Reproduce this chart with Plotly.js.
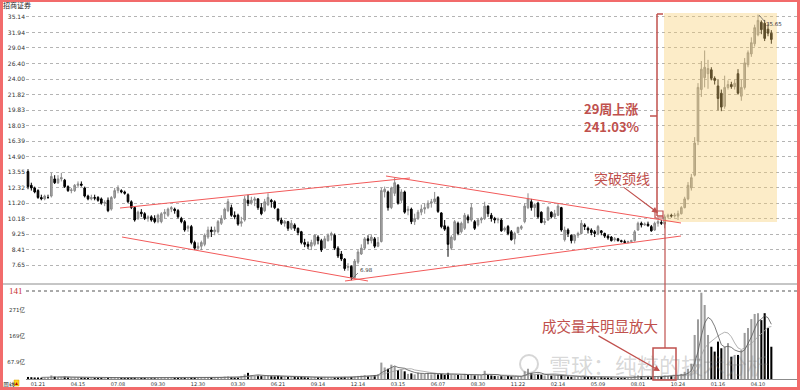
<!DOCTYPE html>
<html><head><meta charset="utf-8">
<script src="https://cdn.plot.ly/plotly-3.0.1.min.js"></script>
<style>
html,body{margin:0;padding:0;background:#fff;}
#wrap{position:relative;width:800px;height:390px;overflow:hidden;}
#chart{width:800px;height:390px;}
#frame{position:absolute;left:0;top:0;width:800px;height:390px;box-sizing:border-box;border:3px solid #f26b6b;border-top-width:2px;pointer-events:none;}
</style></head><body>
<div id="wrap"><div id="chart"></div><div id="frame"></div></div>
<script>
// ---- data (weekly, 招商证券) ----
const openP = [
13.6,12.5,12.3,12.1,11.6,11.5,11.6,11.7,13.0,12.7,
13.0,12.9,12.4,12.1,12.1,12.5,12.6,12.3,11.7,11.5,
11.6,11.6,11.5,11.2,11.4,10.8,11.6,12.1,12.1,12.0,
11.8,11.3,10.9,10.2,10.6,10.5,10.2,10.3,10.2,10.0,
10.0,10.5,10.4,10.8,10.8,10.7,10.2,10.0,9.6,9.7,
8.8,8.5,8.6,8.7,9.1,9.5,9.4,9.4,9.9,10.2,
10.7,10.9,10.4,10.4,9.9,10.1,11.4,11.2,11.4,11.5,
10.9,10.7,11.1,11.4,11.3,10.8,10.1,9.9,10.0,9.6,
9.8,9.6,9.4,8.8,8.7,8.6,8.7,9.1,8.9,8.5,
8.9,9.2,9.2,8.5,8.2,7.95,7.55,7.6,7.1,7.8,
8.2,8.5,9.0,8.9,9.0,8.6,8.85,12.0,12.0,10.9,
11.9,12.5,11.4,12.0,10.7,10.8,10.0,10.2,10.6,10.8,
10.9,11.2,11.3,11.6,10.55,9.75,9.65,8.5,8.95,9.9,
9.4,9.6,10.3,10.1,10.0,9.8,10.1,10.2,11.0,10.4,
10.2,10.1,10.1,9.5,9.7,9.4,9.0,9.35,9.6,10.0,
10.9,11.3,10.9,11.2,10.6,9.95,10.1,10.6,10.3,10.4,
10.9,8.95,9.5,9.2,8.9,9.2,9.3,9.8,9.6,9.5,
9.4,9.3,9.45,9.3,9.15,9.1,8.95,9.0,8.9,8.85,
8.8,8.85,8.9,9.5,9.9,9.8,9.85,9.7,9.5,9.9,
9.95,9.85,10.3,10.4,10.35,10.35,10.5,10.9,11.5,12.3,
13.3,16.4,22.5,24.2,24.8,25.4,24.1,23.0,22.0,20.3,
22.8,23.2,22.9,24.8,21.6,22.8,26.2,28.0,29.8,31.5,
34.0,33.8,32.6,31.8];
const highP = [
13.8,12.7,12.4,12.2,11.8,11.8,11.8,13.5,13.3,13.3,
13.5,13.0,12.5,12.3,12.6,12.8,12.8,12.4,11.8,11.8,
11.8,11.7,11.6,11.4,11.6,11.7,12.3,12.5,12.2,12.1,
11.9,11.4,11.0,10.7,10.8,10.6,10.4,10.4,10.4,10.5,
10.6,10.8,10.9,11.0,10.9,10.8,10.3,10.1,9.8,9.8,
8.9,8.8,8.9,9.3,9.7,9.7,9.7,10.1,10.4,10.9,
11.5,11.1,10.65,10.5,10.3,11.7,11.8,11.65,11.65,11.55,
11.2,11.5,11.9,11.5,11.4,10.85,10.25,10.1,10.05,10.1,
9.9,9.65,9.45,9.0,8.85,8.95,9.25,9.2,9.0,9.15,
9.3,9.4,9.3,8.6,8.35,8.0,7.75,7.65,7.95,8.4,
8.7,9.1,9.2,9.25,9.1,9.1,12.3,12.4,12.1,12.4,
13.1,12.6,12.2,12.1,11.0,10.9,10.5,10.75,11.1,11.2,
11.4,11.5,12.0,11.7,10.6,10.1,9.75,9.2,10.1,10.0,
10.0,10.55,10.45,11.2,10.1,10.2,10.3,11.3,11.05,10.55,
10.3,10.25,10.2,9.7,9.8,9.5,9.4,9.7,9.8,11.2,
11.9,11.5,11.2,11.3,10.65,10.2,11.0,10.65,10.75,11.2,
10.95,9.7,9.6,9.25,9.25,9.4,10.1,9.9,9.7,9.6,
9.5,9.8,9.5,9.35,9.25,9.15,9.1,9.05,8.95,8.95,
8.9,8.95,9.5,10.0,10.0,9.95,10.0,9.8,10.0,10.1,
10.1,10.45,10.5,10.5,10.55,10.7,11.0,11.65,12.75,13.4,
16.8,23.4,26.8,28.6,27.0,25.8,24.4,23.9,22.5,24.5,
23.8,23.6,23.9,25.5,23.9,27.3,28.6,31.0,33.5,35.65,
34.4,34.5,33.6,32.4];
const lowP = [
12.2,12.1,11.9,11.5,11.4,11.4,11.5,11.6,12.6,12.6,
12.8,12.3,12.0,11.9,12.0,12.3,12.4,11.6,11.4,11.4,
11.4,11.3,11.1,11.0,10.6,10.7,11.5,11.9,11.9,11.8,
11.2,10.8,10.0,10.1,10.3,10.1,10.0,10.0,9.9,9.9,
9.9,10.2,10.3,10.6,10.5,10.2,9.9,9.4,9.4,8.7,
8.4,8.4,8.4,8.6,9.0,9.1,9.2,9.3,9.8,10.1,
10.6,10.3,10.15,9.75,9.7,10.0,11.0,11.1,11.0,10.75,
10.4,10.6,11.0,10.9,10.8,10.0,9.8,9.7,9.45,9.5,
9.45,9.2,8.7,8.55,8.45,8.4,8.6,8.7,8.3,8.5,
8.85,8.9,8.4,8.0,7.85,7.4,7.4,6.98,7.05,7.7,
8.15,8.4,8.7,8.75,8.5,8.55,8.8,11.6,10.7,10.8,
11.7,11.1,11.2,10.5,10.4,9.85,9.8,10.1,10.4,10.5,
10.8,10.9,11.2,10.55,9.6,9.45,8.06,8.4,8.9,9.2,
9.3,9.5,9.9,10.0,9.5,9.7,9.9,10.1,10.3,10.0,
9.9,9.9,9.4,9.4,9.2,8.9,8.7,9.3,9.5,9.9,
10.8,10.7,10.3,10.2,9.9,9.8,10.05,10.2,10.2,10.35,
9.4,8.85,9.1,8.75,8.75,9.05,9.25,9.5,9.3,9.2,
9.1,9.2,9.2,9.05,8.95,8.85,8.85,8.85,8.8,8.75,
8.75,8.78,8.85,9.45,9.65,9.75,9.7,9.4,9.45,9.7,
9.8,9.6,10.2,10.25,10.25,10.1,10.45,10.85,11.4,12.1,
13.2,16.0,21.5,22.8,22.6,23.8,23.2,19.8,19.7,20.0,
22.5,22.6,22.5,21.8,21.0,22.5,25.8,27.5,29.3,31.2,
31.6,30.3,31.2,29.8];
const closeP = [
12.4,12.3,12.0,11.6,11.5,11.7,11.6,13.2,12.7,13.0,
13.1,12.4,12.1,12.15,12.5,12.6,12.5,11.7,11.5,11.6,
11.55,11.4,11.2,11.25,10.7,11.6,12.1,12.3,12.0,11.9,
11.3,10.9,10.1,10.6,10.5,10.2,10.3,10.1,10.0,10.4,
10.5,10.6,10.8,10.9,10.7,10.3,10.0,9.5,9.7,8.8,
8.5,8.6,8.8,9.2,9.5,9.4,9.5,10.0,10.2,10.8,
11.3,10.4,10.3,9.85,10.0,11.5,11.2,11.4,11.5,10.9,
10.5,11.3,11.6,11.3,10.9,10.1,9.9,10.0,9.6,9.9,
9.6,9.35,8.8,8.7,8.6,8.8,9.2,8.9,8.4,9.0,
9.2,9.3,8.5,8.1,7.95,7.5,7.6,7.1,7.85,8.3,
8.5,9.0,8.9,9.1,8.6,8.8,12.1,12.2,10.9,12.3,
12.7,11.2,12.0,10.6,10.8,10.0,10.2,10.6,10.8,10.9,
11.2,11.3,11.5,10.65,9.7,9.55,8.7,9.1,10.0,9.3,
9.9,10.4,10.1,10.9,9.6,10.1,10.2,11.0,10.5,10.2,
10.1,10.15,9.45,9.6,9.3,8.95,9.3,9.65,9.7,11.0,
11.5,10.9,11.1,10.3,9.95,10.0,10.9,10.3,10.5,11.0,
9.5,9.5,9.3,8.9,9.2,9.3,9.9,9.7,9.5,9.35,
9.3,9.7,9.35,9.15,9.05,8.9,9.0,8.9,8.85,8.8,
8.85,8.9,9.4,9.9,9.8,9.85,9.75,9.45,9.9,10.0,
9.9,10.3,10.4,10.35,10.4,10.5,10.9,11.5,12.5,13.1,
16.2,22.8,25.5,25.8,25.6,24.1,23.8,21.3,20.2,22.8,
23.2,22.9,23.4,22.0,22.8,26.5,28.2,30.0,32.9,34.4,
32.5,30.8,31.8,30.6];
const volume = [
8,7,6,6,5,5,6,
14,
9,8,8,9,7,6,7,7,6,
6,5,5,4,4,4,4,6,7,6,5,
4,4,5,5,6,5,4,4,4,3,3,4,5,
5,4,5,4,4,3,4,4,5,5,4,
4,5,6,5,4,7,8,9,10,8,6,6,
12,18,24,
14,12,13,12,12,14,11,10,12,10,9,8,9,8,
7,8,7,6,6,8,7,6,7,7,6,6,7,7,8,
7,8,10,12,13,15,12,13,15,18,
64,45,40,56,50,35,38,30,
20,22,18,25,22,20,24,18,22,
18,20,16,24,18,17,16,15,20,16,18,14,15,14,
32,
16,14,12,12,11,10,12,10,10,9,11,
30,40,
22,18,20,17,14,16,13,14,16,15,
12,10,9,9,8,10,9,8,8,7,8,7,6,6,6,5,5,5,5,6,
6,12,14,10,9,8,7,9,10,10,
14,12,12,10,14,20,28,40,60,
172,233,337,289,172,126,107,146,120,126,140,87,94,94,113,180,199,234,254,257,230,257,199,126];
const tickIdx = [3,15,27,39,51,63,75,87,99,111,123,135,147,159,171,183,195,207,219];
const tickText = ['01.21','04.15','07.08','09.30','12.30','03.30','06.21','09.14','12.14','03.15','06.07','08.30','11.22','02.14','05.09','08.01','10.24','01.16','04.10'];
const priceTicks = [7.65,8.41,9.25,10.18,11.20,12.32,13.55,14.90,16.39,18.03,19.83,21.82,24.00,26.40,29.04,31.94,35.14];
const priceTickText = ['7.65','8.41','9.25','10.18','11.20','12.32','13.55','14.90','16.39','18.03','19.83','21.82','24.00','26.40','29.04','31.94','35.14'];
const volTicks = [67.9,169,271];
const volTickText = ['67.9亿','169亿','271亿'];

// ---- derived ----
const N = closeP.length;
const xs = closeP.map((_, i) => i);
const volColors = closeP.map((c, i) => c >= openP[i] ? '#9c9c9c' : '#000000');
function ma(arr, n){ return arr.map((_, i) => i < n-1 ? null : arr.slice(i-n+1, i+1).reduce((a,b)=>a+b,0)/n); }
const ma5 = ma(volume, 5), ma10 = ma(volume, 10);

// ---- pixel helpers for overlays ----
const L = 26, R = 797, T = 10, B = 379;
const px = x => (x - L) / (R - L);
const py = y => (B - y) / (B - T);
const RED = '#c0504d', TL = '#f25a5a';
function seg(x0,y0,x1,y1,color,w,dash){ return {type:'line',xref:'paper',yref:'paper',x0:px(x0),y0:py(y0),x1:px(x1),y1:py(y1),line:{color:color,width:w,dash:dash||'solid'},layer:'above'}; }
function box(x0,y0,x1,y1,color,w,fill){ return {type:'rect',xref:'paper',yref:'paper',x0:px(x0),y0:py(y1),x1:px(x1),y1:py(y0),line:{color:color,width:w},fillcolor:fill||'rgba(0,0,0,0)',layer:'above'}; }
const CJK = 'Noto Sans CJK SC, sans-serif';
function txt(x,y,t,size,color,extra){ return Object.assign({xref:'paper',yref:'paper',x:px(x),y:py(y),text:t,showarrow:false,xanchor:'left',yanchor:'middle',font:{family:CJK,size:size,color:color}}, extra||{}); }

const traces = [
  {type:'candlestick', x:xs, open:openP, high:highP, low:lowP, close:closeP, xaxis:'x', yaxis:'y',
   increasing:{line:{color:'#8a8a8a',width:1},fillcolor:'#a8a8a8'},
   decreasing:{line:{color:'#000000',width:1},fillcolor:'#000000'},
   whiskerwidth:0, hoverinfo:'skip'},
  {type:'bar', x:xs, y:volume, xaxis:'x', yaxis:'y2', width:0.62, marker:{color:volColors,line:{width:0}}, hoverinfo:'skip'},
  {type:'scatter', mode:'lines', x:xs, y:ma10, xaxis:'x', yaxis:'y2', line:{color:'#a0a0a0',width:0.8}, hoverinfo:'skip'},
  {type:'scatter', mode:'lines', x:xs, y:ma5, xaxis:'x', yaxis:'y2', line:{color:'#5a5a5a',width:0.8}, hoverinfo:'skip'}
];

const shapes = [
  seg(2,284,797,284,'#8c8c8c',1),
  seg(26,291,797,291,'#555555',1,'dot'),
  {type:'rect',xref:'paper',yref:'paper',x0:px(664),x1:px(777),y0:py(222),y1:py(13),fillcolor:'rgba(246,206,110,0.38)',line:{width:0},layer:'above'},
  seg(120,208,410,178,TL,1),
  seg(122,237,368,281,TL,1),
  seg(386,176,681,223,TL,1),
  seg(345,281,681,236,TL,1),
  seg(657,14,657,216,RED,1.5),
  seg(657,14,663,14,RED,1.5),
  seg(657,216,663,216,RED,1.5),
  seg(650,116,657,116,RED,1.5),
  box(655,211,663,218,RED,1.2),
  seg(665,222,665,348,RED,1.2),
  box(653,348,676,380,RED,1.5),
  seg(352,279,358,273,'#666666',0.8),
  seg(759,15,765,22,'#666666',0.8),
  {type:'circle',xref:'paper',yref:'paper',x0:px(520),x1:px(538),y0:py(373),y1:py(355),line:{color:'rgba(120,120,120,0.3)',width:2},layer:'above'},
  box(14,380,19,386,'#d4a000',0.5,'#ffd21f')
];

const annotations = [
  txt(1,5,'招商证券',7,'#222'),
  txt(7,291,'141',9,'#c83232',{font:{family:'Liberation Serif, serif',size:9,color:'#c83232'}}),
  txt(582,108,'<b>29周上涨</b>',13,RED),
  txt(582,127,'<b>241.03%</b>',13,RED),
  txt(592,178,'突破颈线',14,RED),
  txt(540,325,'成交量未明显放大',14.5,RED),
  txt(358,270,'6.98',5.5,'#333',{font:{family:'DejaVu Sans',size:5.5,color:'#333'}}),
  txt(764,24,'35.65',5.5,'#333',{font:{family:'DejaVu Sans',size:5.5,color:'#333'}}),
  txt(547,364,'雪球：纯粹的技术分析',22,'rgba(120,120,120,0.3)'),
  txt(1,384,'周线',6,'#222'),
  {xref:'paper',yref:'paper',x:px(16.5),y:py(383),text:'▲',showarrow:false,font:{size:5,color:'#b00000'},xanchor:'center',yanchor:'middle'},
  {xref:'paper',yref:'paper',x:px(658),y:py(213),ax:-36,ay:-27,axref:'pixel',ayref:'pixel',text:'',showarrow:true,arrowhead:2,arrowsize:1,arrowwidth:1.2,arrowcolor:RED},
  {xref:'paper',yref:'paper',x:px(660),y:py(371),ax:-63,ay:-36,axref:'pixel',ayref:'pixel',text:'',showarrow:true,arrowhead:2,arrowsize:1,arrowwidth:1.2,arrowcolor:RED}
];

const axFont = {family:'DejaVu Sans, Noto Sans CJK SC, sans-serif', size:6, color:'#333'};
const layout = {
  width:800, height:390, margin:{l:L, r:800-R, t:T, b:390-B},
  paper_bgcolor:'#ffffff', plot_bgcolor:'#ffffff', showlegend:false,
  xaxis:{range:[-0.6,230.7], anchor:'y2', tickvals:tickIdx, ticktext:tickText, tickfont:{family:'DejaVu Sans',size:5,color:'#333'},
         showgrid:false, zeroline:false, showline:true, linecolor:'#8c8c8c', linewidth:1, ticks:'', rangeslider:{visible:false}},
  yaxis:{domain:[py(284),1], type:'log', range:[0.8338,1.5642], tickvals:priceTicks, ticktext:priceTickText, tickfont:axFont,
         showgrid:true, gridcolor:'#b4b4b4', griddash:'dot', gridwidth:1, zeroline:false, ticks:'', showline:false},
  yaxis2:{domain:[0,py(284)], range:[0,371], tickvals:volTicks, ticktext:volTickText, tickfont:{family:'DejaVu Sans, Noto Sans CJK SC, sans-serif',size:5.5,color:'#333'},
          showgrid:false, zeroline:false, ticks:'', showline:false},
  shapes:shapes, annotations:annotations
};
Plotly.newPlot('chart', traces, layout, {staticPlot:true, displayModeBar:false});
</script></body></html>
